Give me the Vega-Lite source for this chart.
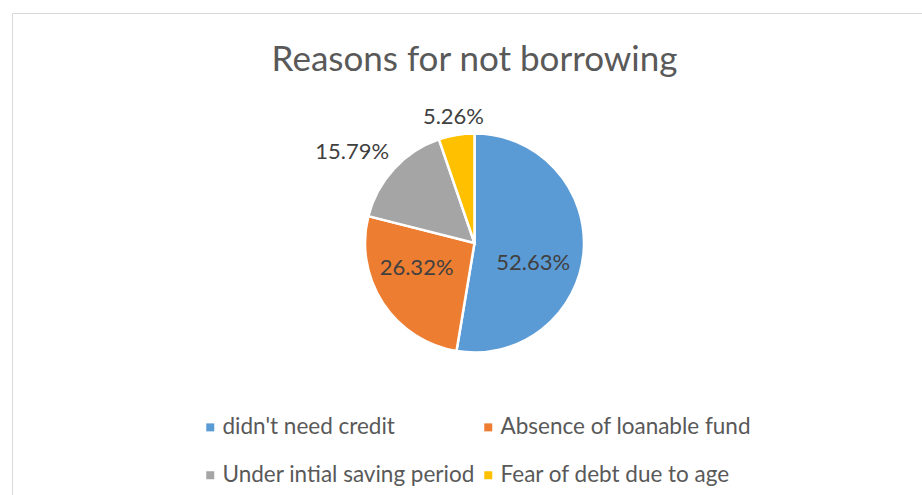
{
  "$schema": "https://vega.github.io/schema/vega-lite/v6.json",
  "width": 895,
  "height": 326,
  "autosize": {"type": "none"},
  "padding": {"left": 27, "top": 80, "right": 0, "bottom": 89},
  "background": "white",
  "config": {"view": {"stroke": null}, "font": "Lato"},
  "title": {
    "text": "Reasons for not borrowing",
    "font": "Lato",
    "fontSize": 35,
    "fontWeight": "normal",
    "color": "#595959",
    "anchor": "middle",
    "frame": "group",
    "baseline": "alphabetic",
    "offset": -93
  },
  "data": {
    "values": [
      {"reason": "didn't need  credit", "share": 0.5263, "rank": 1},
      {"reason": "Absence of loanable fund", "share": 0.2632, "rank": 2},
      {"reason": "Under intial saving period", "share": 0.1579, "rank": 3},
      {"reason": "Fear of debt due to age", "share": 0.0526, "rank": 4}
    ]
  },
  "encoding": {
    "theta": {"field": "share", "type": "quantitative", "stack": true},
    "order": {"field": "rank", "type": "quantitative"}
  },
  "layer": [
    {
      "mark": {"type": "arc", "outerRadius": 109.5, "stroke": "white", "strokeWidth": 2.5},
      "encoding": {
        "color": {
          "field": "reason",
          "type": "nominal",
          "scale": {
            "domain": ["didn't need  credit", "Absence of loanable fund", "Under intial saving period", "Fear of debt due to age"],
            "range": ["#5B9BD5", "#ED7D31", "#A5A5A5", "#FFC000"]
          },
          "legend": {
            "title": " ",
            "titleFontSize": 1,
            "titlePadding": 215,
            "orient": "none",
            "legendX": -15,
            "legendY": -67,
            "padding": 187,
            "strokeColor": "#D9D9D9",
            "direction": "horizontal",
            "columns": 2,
            "symbolType": "square",
            "symbolSize": 64,
            "symbolStrokeWidth": 0,
            "labelFont": "Lato",
            "labelFontSize": 22.5,
            "labelColor": "#595959",
            "labelOffset": 1,
            "labelLimit": 400,
            "columnPadding": 2,
            "rowPadding": 25
          }
        }
      }
    },
    {
      "mark": {"type": "text", "radius": 62, "dx": -3, "dy": 15, "font": "Lato", "fontSize": 22, "color": "#404040", "align": "center", "baseline": "middle"},
      "encoding": {"text": {"condition": {"test": "datum.rank == 1", "field": "share", "type": "quantitative", "format": ".2%"}, "value": ""}}
    },
    {
      "mark": {"type": "text", "radius": 62, "dx": -6, "dy": -9, "font": "Lato", "fontSize": 22, "color": "#404040", "align": "center", "baseline": "middle"},
      "encoding": {"text": {"condition": {"test": "datum.rank == 2", "field": "share", "type": "quantitative", "format": ".2%"}, "value": ""}}
    },
    {
      "mark": {"type": "text", "radius": 150, "dx": -12, "dy": 11, "font": "Lato", "fontSize": 22, "color": "#404040", "align": "center", "baseline": "middle"},
      "encoding": {"text": {"condition": {"test": "datum.rank == 3", "field": "share", "type": "quantitative", "format": ".2%"}, "value": ""}}
    },
    {
      "mark": {"type": "text", "radius": 128, "font": "Lato", "fontSize": 22, "color": "#404040", "align": "center", "baseline": "middle"},
      "encoding": {"text": {"condition": {"test": "datum.rank == 4", "field": "share", "type": "quantitative", "format": ".2%"}, "value": ""}}
    }
  ]
}
